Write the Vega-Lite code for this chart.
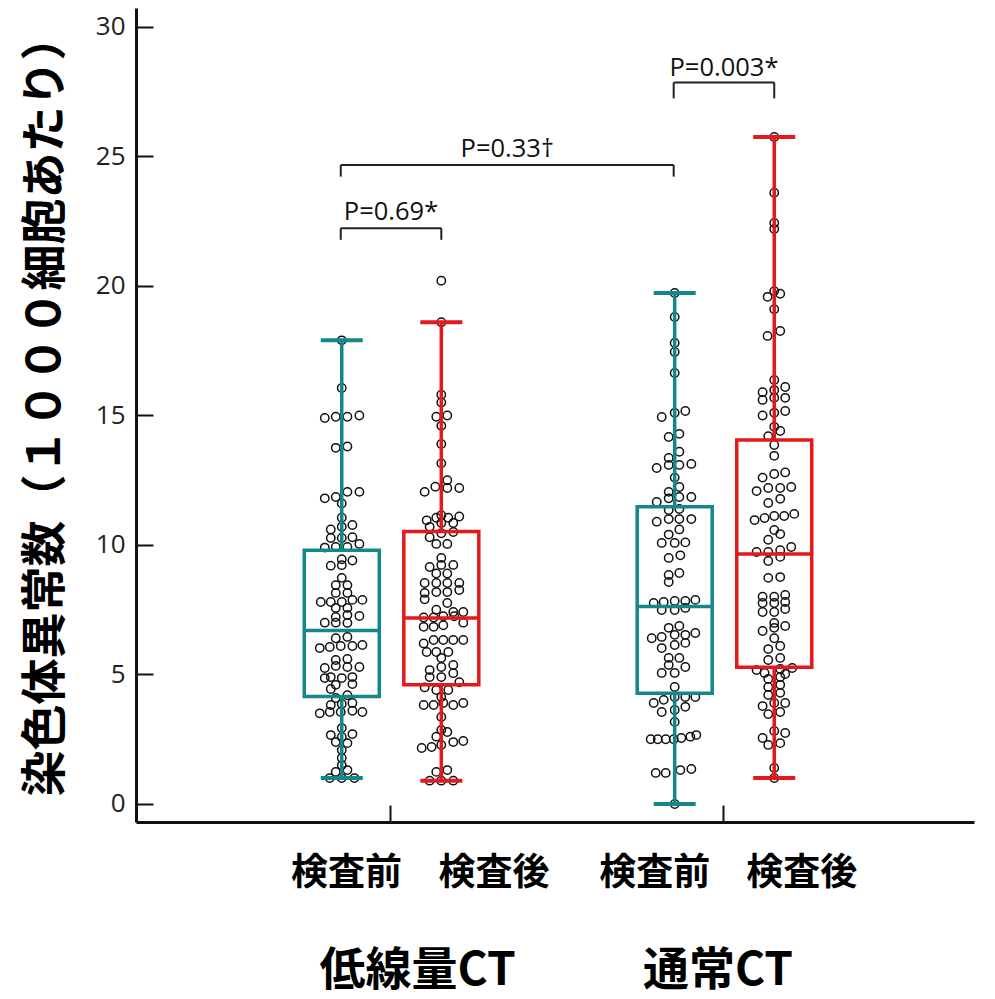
{
  "$schema": "https://vega.github.io/schema/vega-lite/v6.json",
  "width": 838,
  "height": 814,
  "autosize": {"type": "none"},
  "padding": {"left": 136, "top": 8, "right": 21, "bottom": 177},
  "background": "white",
  "config": {
    "view": {"stroke": null},
    "axis": {"grid": false},
    "axisY": {"labelFont": "Open Sans", "labelFontSize": 26, "labelColor": "#222222", "labelPadding": 28, "tickSize": -17, "tickWidth": 2, "tickColor": "#111111", "domainColor": "#111111", "domainWidth": 3},
    "axisX": {"tickSize": -17, "tickWidth": 2, "tickColor": "#111111", "domainColor": "#111111", "domainWidth": 3}
  },
  "datasets": {
    "boxes": [
      {"group": "低線量CT", "time": "検査前", "pos": 0.855, "min": 1.0, "q1": 4.15, "median": 6.7, "q3": 9.8, "max": 17.9},
      {"group": "低線量CT", "time": "検査後", "pos": 1.154, "min": 0.9, "q1": 4.6, "median": 7.18, "q3": 10.52, "max": 18.6},
      {"group": "通常CT", "time": "検査前", "pos": 1.855, "min": 0.0, "q1": 4.28, "median": 7.62, "q3": 11.48, "max": 19.73},
      {"group": "通常CT", "time": "検査後", "pos": 2.154, "min": 1.0, "q1": 5.28, "median": 9.65, "q3": 14.05, "max": 25.75}
    ],
    "points": [
      {"b": "A", "pos": 0.855, "v": 17.9}, {"b": "A", "pos": 0.855, "v": 16.06},
      {"b": "A", "pos": 0.804, "v": 14.9}, {"b": "A", "pos": 0.837, "v": 14.95}, {"b": "A", "pos": 0.872, "v": 14.95}, {"b": "A", "pos": 0.908, "v": 15.0},
      {"b": "A", "pos": 0.837, "v": 13.75}, {"b": "A", "pos": 0.872, "v": 13.8},
      {"b": "A", "pos": 0.804, "v": 11.8}, {"b": "A", "pos": 0.837, "v": 11.85}, {"b": "A", "pos": 0.872, "v": 12.05}, {"b": "A", "pos": 0.908, "v": 12.05},
      {"b": "A", "pos": 0.855, "v": 11.6}, {"b": "A", "pos": 0.855, "v": 11.05},
      {"b": "A", "pos": 0.822, "v": 10.6}, {"b": "A", "pos": 0.855, "v": 10.7}, {"b": "A", "pos": 0.887, "v": 10.77},
      {"b": "A", "pos": 0.822, "v": 10.27}, {"b": "A", "pos": 0.855, "v": 10.27}, {"b": "A", "pos": 0.887, "v": 10.3},
      {"b": "A", "pos": 0.804, "v": 9.9}, {"b": "A", "pos": 0.837, "v": 9.92}, {"b": "A", "pos": 0.872, "v": 9.92}, {"b": "A", "pos": 0.908, "v": 10.04},
      {"b": "A", "pos": 0.855, "v": 9.45}, {"b": "A", "pos": 0.887, "v": 9.4}, {"b": "A", "pos": 0.822, "v": 9.2}, {"b": "A", "pos": 0.855, "v": 9.22},
      {"b": "A", "pos": 0.855, "v": 8.73}, {"b": "A", "pos": 0.837, "v": 8.45}, {"b": "A", "pos": 0.872, "v": 8.45}, {"b": "A", "pos": 0.837, "v": 8.15}, {"b": "A", "pos": 0.872, "v": 8.15},
      {"b": "A", "pos": 0.792, "v": 7.8}, {"b": "A", "pos": 0.822, "v": 7.8}, {"b": "A", "pos": 0.855, "v": 7.8}, {"b": "A", "pos": 0.887, "v": 7.88}, {"b": "A", "pos": 0.917, "v": 7.88},
      {"b": "A", "pos": 0.837, "v": 7.57}, {"b": "A", "pos": 0.872, "v": 7.57},
      {"b": "A", "pos": 0.837, "v": 7.22}, {"b": "A", "pos": 0.872, "v": 7.3}, {"b": "A", "pos": 0.908, "v": 7.26},
      {"b": "A", "pos": 0.804, "v": 7.0}, {"b": "A", "pos": 0.837, "v": 7.0}, {"b": "A", "pos": 0.872, "v": 6.99},
      {"b": "A", "pos": 0.837, "v": 6.4}, {"b": "A", "pos": 0.872, "v": 6.45},
      {"b": "A", "pos": 0.789, "v": 6.02}, {"b": "A", "pos": 0.819, "v": 6.06}, {"b": "A", "pos": 0.852, "v": 6.1}, {"b": "A", "pos": 0.887, "v": 6.1}, {"b": "A", "pos": 0.917, "v": 6.14},
      {"b": "A", "pos": 0.837, "v": 5.56}, {"b": "A", "pos": 0.872, "v": 5.6},
      {"b": "A", "pos": 0.804, "v": 5.25}, {"b": "A", "pos": 0.837, "v": 5.33}, {"b": "A", "pos": 0.872, "v": 5.29}, {"b": "A", "pos": 0.908, "v": 5.29},
      {"b": "A", "pos": 0.804, "v": 4.86}, {"b": "A", "pos": 0.822, "v": 4.9}, {"b": "A", "pos": 0.855, "v": 4.86}, {"b": "A", "pos": 0.887, "v": 4.9},
      {"b": "A", "pos": 0.837, "v": 4.6}, {"b": "A", "pos": 0.887, "v": 4.63}, {"b": "A", "pos": 0.822, "v": 4.44},
      {"b": "A", "pos": 0.837, "v": 4.09}, {"b": "A", "pos": 0.872, "v": 4.2},
      {"b": "A", "pos": 0.822, "v": 3.82}, {"b": "A", "pos": 0.855, "v": 3.86}, {"b": "A", "pos": 0.887, "v": 3.9},
      {"b": "A", "pos": 0.789, "v": 3.5}, {"b": "A", "pos": 0.819, "v": 3.55}, {"b": "A", "pos": 0.852, "v": 3.55}, {"b": "A", "pos": 0.887, "v": 3.6}, {"b": "A", "pos": 0.917, "v": 3.55},
      {"b": "A", "pos": 0.855, "v": 2.93},
      {"b": "A", "pos": 0.822, "v": 2.66}, {"b": "A", "pos": 0.855, "v": 2.59}, {"b": "A", "pos": 0.887, "v": 2.7},
      {"b": "A", "pos": 0.837, "v": 2.39}, {"b": "A", "pos": 0.872, "v": 2.35},
      {"b": "A", "pos": 0.855, "v": 2.08}, {"b": "A", "pos": 0.855, "v": 1.78}, {"b": "A", "pos": 0.855, "v": 1.5},
      {"b": "A", "pos": 0.837, "v": 1.24}, {"b": "A", "pos": 0.872, "v": 1.31},
      {"b": "A", "pos": 0.819, "v": 1.0}, {"b": "A", "pos": 0.855, "v": 1.0}, {"b": "A", "pos": 0.893, "v": 1.0},

      {"b": "B", "pos": 1.154, "v": 20.2}, {"b": "B", "pos": 1.154, "v": 18.6},
      {"b": "B", "pos": 1.154, "v": 15.8}, {"b": "B", "pos": 1.154, "v": 15.5},
      {"b": "B", "pos": 1.139, "v": 14.95}, {"b": "B", "pos": 1.172, "v": 15.0}, {"b": "B", "pos": 1.154, "v": 14.6},
      {"b": "B", "pos": 1.154, "v": 13.9}, {"b": "B", "pos": 1.154, "v": 13.15},
      {"b": "B", "pos": 1.172, "v": 12.5}, {"b": "B", "pos": 1.136, "v": 12.25}, {"b": "B", "pos": 1.104, "v": 12.05}, {"b": "B", "pos": 1.172, "v": 12.2}, {"b": "B", "pos": 1.208, "v": 12.2},
      {"b": "B", "pos": 1.154, "v": 11.15}, {"b": "B", "pos": 1.110, "v": 10.95}, {"b": "B", "pos": 1.139, "v": 11.05}, {"b": "B", "pos": 1.175, "v": 11.05}, {"b": "B", "pos": 1.208, "v": 11.1},
      {"b": "B", "pos": 1.119, "v": 10.7}, {"b": "B", "pos": 1.154, "v": 10.85}, {"b": "B", "pos": 1.190, "v": 10.85},
      {"b": "B", "pos": 1.119, "v": 10.3}, {"b": "B", "pos": 1.154, "v": 10.45}, {"b": "B", "pos": 1.190, "v": 10.5},
      {"b": "B", "pos": 1.139, "v": 10.04}, {"b": "B", "pos": 1.172, "v": 10.04},
      {"b": "B", "pos": 1.154, "v": 9.5}, {"b": "B", "pos": 1.119, "v": 9.15}, {"b": "B", "pos": 1.154, "v": 9.23}, {"b": "B", "pos": 1.190, "v": 9.23},
      {"b": "B", "pos": 1.139, "v": 8.9}, {"b": "B", "pos": 1.172, "v": 8.9},
      {"b": "B", "pos": 1.104, "v": 8.53}, {"b": "B", "pos": 1.139, "v": 8.53}, {"b": "B", "pos": 1.172, "v": 8.53}, {"b": "B", "pos": 1.208, "v": 8.53},
      {"b": "B", "pos": 1.104, "v": 8.15}, {"b": "B", "pos": 1.139, "v": 8.18}, {"b": "B", "pos": 1.172, "v": 8.18}, {"b": "B", "pos": 1.208, "v": 8.26},
      {"b": "B", "pos": 1.104, "v": 7.9}, {"b": "B", "pos": 1.172, "v": 7.76},
      {"b": "B", "pos": 1.139, "v": 7.5}, {"b": "B", "pos": 1.190, "v": 7.41}, {"b": "B", "pos": 1.220, "v": 7.41},
      {"b": "B", "pos": 1.101, "v": 7.2}, {"b": "B", "pos": 1.131, "v": 7.2}, {"b": "B", "pos": 1.160, "v": 7.25}, {"b": "B", "pos": 1.193, "v": 7.25},
      {"b": "B", "pos": 1.101, "v": 6.84}, {"b": "B", "pos": 1.131, "v": 6.84}, {"b": "B", "pos": 1.160, "v": 6.9}, {"b": "B", "pos": 1.220, "v": 7.0},
      {"b": "B", "pos": 1.101, "v": 6.2}, {"b": "B", "pos": 1.131, "v": 6.33}, {"b": "B", "pos": 1.160, "v": 6.33}, {"b": "B", "pos": 1.190, "v": 6.33}, {"b": "B", "pos": 1.220, "v": 6.33},
      {"b": "B", "pos": 1.110, "v": 5.87}, {"b": "B", "pos": 1.139, "v": 5.87}, {"b": "B", "pos": 1.175, "v": 5.87}, {"b": "B", "pos": 1.154, "v": 5.64},
      {"b": "B", "pos": 1.119, "v": 5.17}, {"b": "B", "pos": 1.154, "v": 5.29}, {"b": "B", "pos": 1.190, "v": 5.37},
      {"b": "B", "pos": 1.119, "v": 4.9}, {"b": "B", "pos": 1.154, "v": 4.9}, {"b": "B", "pos": 1.190, "v": 5.05},
      {"b": "B", "pos": 1.104, "v": 4.5}, {"b": "B", "pos": 1.139, "v": 4.4}, {"b": "B", "pos": 1.175, "v": 4.4}, {"b": "B", "pos": 1.208, "v": 4.7},
      {"b": "B", "pos": 1.154, "v": 4.13},
      {"b": "B", "pos": 1.101, "v": 3.82}, {"b": "B", "pos": 1.131, "v": 3.82}, {"b": "B", "pos": 1.160, "v": 3.9}, {"b": "B", "pos": 1.190, "v": 3.82}, {"b": "B", "pos": 1.220, "v": 3.9},
      {"b": "B", "pos": 1.154, "v": 3.36}, {"b": "B", "pos": 1.154, "v": 2.86}, {"b": "B", "pos": 1.139, "v": 2.6}, {"b": "B", "pos": 1.172, "v": 2.78},
      {"b": "B", "pos": 1.095, "v": 2.16}, {"b": "B", "pos": 1.125, "v": 2.2}, {"b": "B", "pos": 1.154, "v": 2.28}, {"b": "B", "pos": 1.190, "v": 2.39}, {"b": "B", "pos": 1.220, "v": 2.43},
      {"b": "B", "pos": 1.139, "v": 1.24}, {"b": "B", "pos": 1.172, "v": 1.31},
      {"b": "B", "pos": 1.119, "v": 0.9}, {"b": "B", "pos": 1.154, "v": 0.9}, {"b": "B", "pos": 1.190, "v": 0.9},

      {"b": "C", "pos": 1.855, "v": 19.73}, {"b": "C", "pos": 1.855, "v": 18.8}, {"b": "C", "pos": 1.855, "v": 17.8}, {"b": "C", "pos": 1.855, "v": 17.45}, {"b": "C", "pos": 1.855, "v": 16.64},
      {"b": "C", "pos": 1.816, "v": 14.94}, {"b": "C", "pos": 1.855, "v": 15.1}, {"b": "C", "pos": 1.887, "v": 15.17},
      {"b": "C", "pos": 1.837, "v": 14.17}, {"b": "C", "pos": 1.869, "v": 14.29}, {"b": "C", "pos": 1.869, "v": 13.6}, {"b": "C", "pos": 1.837, "v": 13.36},
      {"b": "C", "pos": 1.801, "v": 12.97}, {"b": "C", "pos": 1.837, "v": 13.09}, {"b": "C", "pos": 1.869, "v": 13.09}, {"b": "C", "pos": 1.905, "v": 13.13},
      {"b": "C", "pos": 1.855, "v": 12.6}, {"b": "C", "pos": 1.869, "v": 12.24}, {"b": "C", "pos": 1.837, "v": 12.05},
      {"b": "C", "pos": 1.801, "v": 11.66}, {"b": "C", "pos": 1.837, "v": 11.8}, {"b": "C", "pos": 1.869, "v": 11.85}, {"b": "C", "pos": 1.905, "v": 11.85},
      {"b": "C", "pos": 1.837, "v": 11.35}, {"b": "C", "pos": 1.869, "v": 11.39},
      {"b": "C", "pos": 1.801, "v": 10.9}, {"b": "C", "pos": 1.837, "v": 11.0}, {"b": "C", "pos": 1.869, "v": 11.0}, {"b": "C", "pos": 1.905, "v": 11.0},
      {"b": "C", "pos": 1.869, "v": 10.6}, {"b": "C", "pos": 1.837, "v": 10.4},
      {"b": "C", "pos": 1.816, "v": 10.08}, {"b": "C", "pos": 1.855, "v": 10.08}, {"b": "C", "pos": 1.887, "v": 10.1},
      {"b": "C", "pos": 1.837, "v": 9.5}, {"b": "C", "pos": 1.872, "v": 9.6},
      {"b": "C", "pos": 1.837, "v": 8.84}, {"b": "C", "pos": 1.837, "v": 8.57}, {"b": "C", "pos": 1.869, "v": 8.92},
      {"b": "C", "pos": 1.792, "v": 7.76}, {"b": "C", "pos": 1.822, "v": 7.8}, {"b": "C", "pos": 1.855, "v": 7.84}, {"b": "C", "pos": 1.887, "v": 7.84}, {"b": "C", "pos": 1.917, "v": 7.88},
      {"b": "C", "pos": 1.816, "v": 7.49}, {"b": "C", "pos": 1.855, "v": 7.49}, {"b": "C", "pos": 1.887, "v": 7.57},
      {"b": "C", "pos": 1.837, "v": 6.8}, {"b": "C", "pos": 1.869, "v": 6.87},
      {"b": "C", "pos": 1.786, "v": 6.4}, {"b": "C", "pos": 1.816, "v": 6.45}, {"b": "C", "pos": 1.855, "v": 6.53}, {"b": "C", "pos": 1.887, "v": 6.53}, {"b": "C", "pos": 1.917, "v": 6.6},
      {"b": "C", "pos": 1.816, "v": 6.02}, {"b": "C", "pos": 1.855, "v": 6.14}, {"b": "C", "pos": 1.887, "v": 6.22},
      {"b": "C", "pos": 1.837, "v": 5.64}, {"b": "C", "pos": 1.869, "v": 5.64},
      {"b": "C", "pos": 1.837, "v": 5.37}, {"b": "C", "pos": 1.887, "v": 5.29}, {"b": "C", "pos": 1.816, "v": 5.06}, {"b": "C", "pos": 1.855, "v": 5.06},
      {"b": "C", "pos": 1.855, "v": 4.52},
      {"b": "C", "pos": 1.792, "v": 3.9}, {"b": "C", "pos": 1.822, "v": 4.02}, {"b": "C", "pos": 1.855, "v": 4.13}, {"b": "C", "pos": 1.887, "v": 4.13}, {"b": "C", "pos": 1.917, "v": 4.13},
      {"b": "C", "pos": 1.816, "v": 3.55}, {"b": "C", "pos": 1.855, "v": 3.63}, {"b": "C", "pos": 1.887, "v": 3.75},
      {"b": "C", "pos": 1.855, "v": 3.17},
      {"b": "C", "pos": 1.783, "v": 2.5}, {"b": "C", "pos": 1.804, "v": 2.5}, {"b": "C", "pos": 1.828, "v": 2.5}, {"b": "C", "pos": 1.852, "v": 2.5}, {"b": "C", "pos": 1.875, "v": 2.55}, {"b": "C", "pos": 1.902, "v": 2.6}, {"b": "C", "pos": 1.920, "v": 2.66},
      {"b": "C", "pos": 1.798, "v": 1.2}, {"b": "C", "pos": 1.828, "v": 1.2}, {"b": "C", "pos": 1.872, "v": 1.31}, {"b": "C", "pos": 1.905, "v": 1.35},
      {"b": "C", "pos": 1.855, "v": 0.0},

      {"b": "D", "pos": 2.154, "v": 25.75}, {"b": "D", "pos": 2.154, "v": 23.6}, {"b": "D", "pos": 2.154, "v": 22.43}, {"b": "D", "pos": 2.154, "v": 22.2},
      {"b": "D", "pos": 2.154, "v": 19.8}, {"b": "D", "pos": 2.134, "v": 19.58}, {"b": "D", "pos": 2.172, "v": 19.7}, {"b": "D", "pos": 2.154, "v": 19.1},
      {"b": "D", "pos": 2.134, "v": 18.07}, {"b": "D", "pos": 2.172, "v": 18.26},
      {"b": "D", "pos": 2.154, "v": 16.37}, {"b": "D", "pos": 2.119, "v": 15.9}, {"b": "D", "pos": 2.154, "v": 15.98}, {"b": "D", "pos": 2.187, "v": 16.1},
      {"b": "D", "pos": 2.119, "v": 15.6}, {"b": "D", "pos": 2.154, "v": 15.68}, {"b": "D", "pos": 2.187, "v": 15.68},
      {"b": "D", "pos": 2.119, "v": 15.0}, {"b": "D", "pos": 2.154, "v": 15.1}, {"b": "D", "pos": 2.187, "v": 15.17},
      {"b": "D", "pos": 2.154, "v": 14.56}, {"b": "D", "pos": 2.172, "v": 14.4}, {"b": "D", "pos": 2.136, "v": 14.2},
      {"b": "D", "pos": 2.154, "v": 13.86}, {"b": "D", "pos": 2.154, "v": 13.44},
      {"b": "D", "pos": 2.119, "v": 12.6}, {"b": "D", "pos": 2.154, "v": 12.74}, {"b": "D", "pos": 2.187, "v": 12.8},
      {"b": "D", "pos": 2.101, "v": 12.08}, {"b": "D", "pos": 2.136, "v": 12.2}, {"b": "D", "pos": 2.172, "v": 12.2}, {"b": "D", "pos": 2.205, "v": 12.24},
      {"b": "D", "pos": 2.136, "v": 11.62}, {"b": "D", "pos": 2.172, "v": 11.78},
      {"b": "D", "pos": 2.095, "v": 10.96}, {"b": "D", "pos": 2.125, "v": 11.04}, {"b": "D", "pos": 2.154, "v": 11.12}, {"b": "D", "pos": 2.184, "v": 11.12}, {"b": "D", "pos": 2.214, "v": 11.2},
      {"b": "D", "pos": 2.154, "v": 10.58}, {"b": "D", "pos": 2.172, "v": 10.42}, {"b": "D", "pos": 2.136, "v": 10.2},
      {"b": "D", "pos": 2.101, "v": 9.73}, {"b": "D", "pos": 2.136, "v": 9.73}, {"b": "D", "pos": 2.172, "v": 9.8}, {"b": "D", "pos": 2.205, "v": 9.92},
      {"b": "D", "pos": 2.136, "v": 9.38}, {"b": "D", "pos": 2.172, "v": 9.54},
      {"b": "D", "pos": 2.136, "v": 8.73}, {"b": "D", "pos": 2.172, "v": 8.76},
      {"b": "D", "pos": 2.119, "v": 8.0}, {"b": "D", "pos": 2.154, "v": 8.0}, {"b": "D", "pos": 2.187, "v": 8.07},
      {"b": "D", "pos": 2.119, "v": 7.76}, {"b": "D", "pos": 2.154, "v": 7.76}, {"b": "D", "pos": 2.187, "v": 7.8},
      {"b": "D", "pos": 2.119, "v": 7.41}, {"b": "D", "pos": 2.154, "v": 7.41}, {"b": "D", "pos": 2.187, "v": 7.53},
      {"b": "D", "pos": 2.154, "v": 6.99}, {"b": "D", "pos": 2.119, "v": 6.68}, {"b": "D", "pos": 2.154, "v": 6.8}, {"b": "D", "pos": 2.187, "v": 6.87},
      {"b": "D", "pos": 2.154, "v": 6.4}, {"b": "D", "pos": 2.172, "v": 6.1}, {"b": "D", "pos": 2.136, "v": 5.98},
      {"b": "D", "pos": 2.136, "v": 5.56}, {"b": "D", "pos": 2.172, "v": 5.64},
      {"b": "D", "pos": 2.101, "v": 5.17}, {"b": "D", "pos": 2.125, "v": 5.06}, {"b": "D", "pos": 2.172, "v": 5.21}, {"b": "D", "pos": 2.187, "v": 5.02}, {"b": "D", "pos": 2.208, "v": 5.25},
      {"b": "D", "pos": 2.136, "v": 4.83}, {"b": "D", "pos": 2.172, "v": 4.9}, {"b": "D", "pos": 2.136, "v": 4.52}, {"b": "D", "pos": 2.172, "v": 4.6}, {"b": "D", "pos": 2.136, "v": 4.21}, {"b": "D", "pos": 2.172, "v": 4.29},
      {"b": "D", "pos": 2.119, "v": 3.78}, {"b": "D", "pos": 2.154, "v": 3.9}, {"b": "D", "pos": 2.187, "v": 3.9}, {"b": "D", "pos": 2.136, "v": 3.47}, {"b": "D", "pos": 2.172, "v": 3.55},
      {"b": "D", "pos": 2.154, "v": 2.82}, {"b": "D", "pos": 2.187, "v": 2.74}, {"b": "D", "pos": 2.119, "v": 2.55}, {"b": "D", "pos": 2.136, "v": 2.28}, {"b": "D", "pos": 2.172, "v": 2.35},
      {"b": "D", "pos": 2.154, "v": 1.39}, {"b": "D", "pos": 2.154, "v": 1.0}
    ],
    "brackets": [
      {"label": "P=0.69*", "x1": 0.852, "x2": 1.154, "xm": 1.003, "yt": 22.23, "yb": 21.78, "ly": 22.55},
      {"label": "P=0.33†", "x1": 0.852, "x2": 1.852, "xm": 1.352, "yt": 24.67, "yb": 24.22, "ly": 24.97},
      {"label": "P=0.003*", "x1": 1.852, "x2": 2.154, "xm": 2.003, "yt": 27.85, "yb": 27.24, "ly": 28.1}
    ],
    "sublabels": [
      {"text": "検査前", "pos": 0.869, "ly": -2.7},
      {"text": "検査後", "pos": 1.312, "ly": -2.7},
      {"text": "検査前", "pos": 1.795, "ly": -2.7},
      {"text": "検査後", "pos": 2.237, "ly": -2.7}
    ],
    "grouplabels": [
      {"text": "低線量CT", "pos": 1.083, "ly": -6.45},
      {"text": "通常CT", "pos": 1.985, "ly": -6.45}
    ]
  },
  "layer": [
    {
      "data": {"name": "points"},
      "mark": {"type": "point", "shape": "circle", "filled": false, "color": "#111111", "size": 70, "strokeWidth": 1.5, "opacity": 1},
      "encoding": {
        "x": {
          "field": "pos", "type": "quantitative",
          "scale": {"domain": [0.252, 2.739], "nice": false, "zero": false},
          "axis": {"values": [1, 2], "labels": false, "title": null, "tickSize": -17, "grid": false}
        },
        "y": {
          "field": "v", "type": "quantitative",
          "scale": {"domain": [-0.695, 30.73], "nice": false, "zero": false},
          "axis": {
            "values": [0, 5, 10, 15, 20, 25, 30],
            "tickSize": -17,
            "labelFont": "Open Sans", "labelFontSize": 26, "labelColor": "#222222", "labelPadding": 28,
            "title": "染色体異常数（１０００細胞あたり）",
            "titleFont": "Noto Sans CJK JP", "titleFontSize": 46, "titleFontWeight": "bold", "titleColor": "#000000",
            "titleX": -91, "titleY": 397, "titleAngle": -90, "titleAlign": "center", "titleBaseline": "middle",
            "grid": false
          }
        }
      }
    },
    {
      "data": {"name": "boxes"},
      "mark": {"type": "rule", "strokeWidth": 3.5, "opacity": 1},
      "encoding": {
        "x": {"field": "pos", "type": "quantitative"},
        "y": {"field": "min", "type": "quantitative"},
        "y2": {"field": "q1"},
        "color": {"field": "time", "type": "nominal", "scale": {"domain": ["検査前", "検査後"], "range": ["#14878a", "#e3191c"]}, "legend": null}
      }
    },
    {
      "data": {"name": "boxes"},
      "mark": {"type": "rule", "strokeWidth": 3.5, "opacity": 1},
      "encoding": {
        "x": {"field": "pos", "type": "quantitative"},
        "y": {"field": "q3", "type": "quantitative"},
        "y2": {"field": "max"},
        "color": {"field": "time", "type": "nominal", "legend": null}
      }
    },
    {
      "data": {"name": "boxes"},
      "mark": {"type": "bar", "filled": false, "size": 75, "strokeWidth": 3.5, "opacity": 1},
      "encoding": {
        "x": {"field": "pos", "type": "quantitative"},
        "y": {"field": "q1", "type": "quantitative"},
        "y2": {"field": "q3"},
        "color": {"field": "time", "type": "nominal", "legend": null}
      }
    },
    {
      "data": {"name": "boxes"},
      "mark": {"type": "tick", "orient": "horizontal", "size": 76, "thickness": 3.5, "opacity": 1},
      "encoding": {
        "x": {"field": "pos", "type": "quantitative"},
        "y": {"field": "median", "type": "quantitative"},
        "color": {"field": "time", "type": "nominal", "legend": null}
      }
    },
    {
      "data": {"name": "boxes"},
      "mark": {"type": "tick", "orient": "horizontal", "size": 42, "thickness": 4, "opacity": 1},
      "encoding": {
        "x": {"field": "pos", "type": "quantitative"},
        "y": {"field": "min", "type": "quantitative"},
        "color": {"field": "time", "type": "nominal", "legend": null}
      }
    },
    {
      "data": {"name": "boxes"},
      "mark": {"type": "tick", "orient": "horizontal", "size": 42, "thickness": 4, "opacity": 1},
      "encoding": {
        "x": {"field": "pos", "type": "quantitative"},
        "y": {"field": "max", "type": "quantitative"},
        "color": {"field": "time", "type": "nominal", "legend": null}
      }
    },
    {
      "data": {"name": "brackets"},
      "mark": {"type": "rule", "strokeWidth": 2, "color": "#222222"},
      "encoding": {
        "x": {"field": "x1", "type": "quantitative"},
        "x2": {"field": "x2"},
        "y": {"field": "yt", "type": "quantitative"}
      }
    },
    {
      "data": {"name": "brackets"},
      "mark": {"type": "rule", "strokeWidth": 2, "color": "#222222"},
      "encoding": {
        "x": {"field": "x1", "type": "quantitative"},
        "y": {"field": "yb", "type": "quantitative"},
        "y2": {"field": "yt"}
      }
    },
    {
      "data": {"name": "brackets"},
      "mark": {"type": "rule", "strokeWidth": 2, "color": "#222222"},
      "encoding": {
        "x": {"field": "x2", "type": "quantitative"},
        "y": {"field": "yb", "type": "quantitative"},
        "y2": {"field": "yt"}
      }
    },
    {
      "data": {"name": "brackets"},
      "mark": {"type": "text", "font": "Open Sans", "fontSize": 25.5, "color": "#111111", "align": "center", "baseline": "alphabetic"},
      "encoding": {
        "x": {"field": "xm", "type": "quantitative"},
        "y": {"field": "ly", "type": "quantitative"},
        "text": {"field": "label"}
      }
    },
    {
      "data": {"name": "sublabels"},
      "mark": {"type": "text", "font": "Noto Sans CJK JP", "fontSize": 37, "fontWeight": "bold", "color": "#000000", "align": "center", "baseline": "middle"},
      "encoding": {
        "x": {"field": "pos", "type": "quantitative"},
        "y": {"field": "ly", "type": "quantitative"},
        "text": {"field": "text"}
      }
    },
    {
      "data": {"name": "grouplabels"},
      "mark": {"type": "text", "font": "Noto Sans CJK JP", "fontSize": 46, "fontWeight": "bold", "color": "#000000", "align": "center", "baseline": "middle"},
      "encoding": {
        "x": {"field": "pos", "type": "quantitative"},
        "y": {"field": "ly", "type": "quantitative"},
        "text": {"field": "text"}
      }
    }
  ]
}
